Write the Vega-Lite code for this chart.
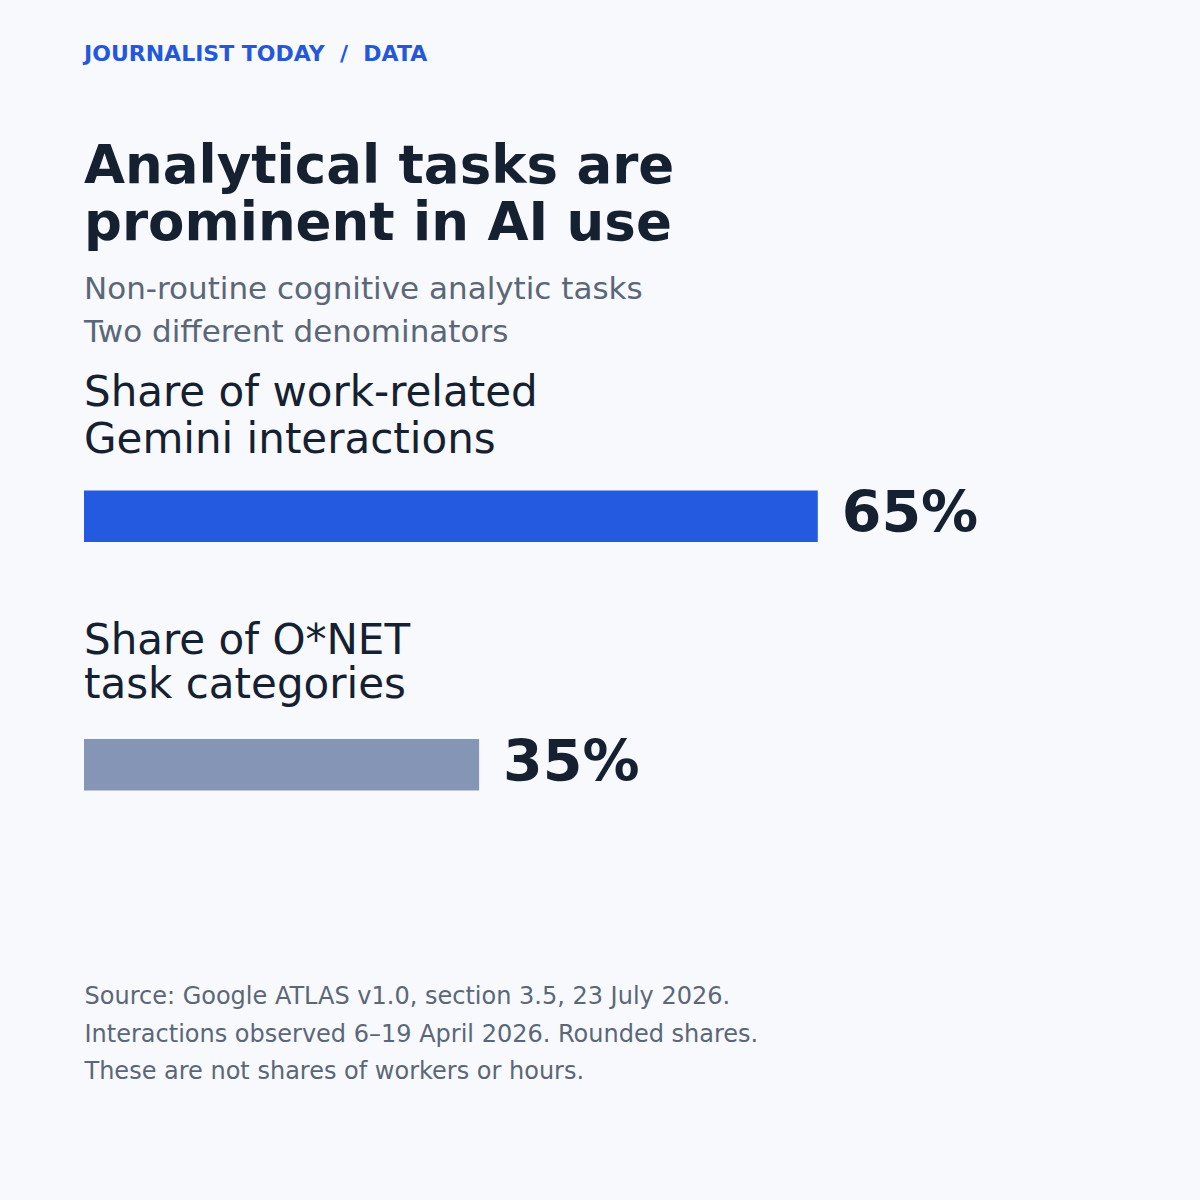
{
  "$schema": "https://vega.github.io/schema/vega-lite/v6.json",
  "background": "#f7f9fc",
  "padding": {"left": 84, "top": 42.5, "right": 100, "bottom": 117},
  "config": {"font": "DejaVu Sans", "view": {"stroke": null}},
  "title": {
    "text": "JOURNALIST TODAY\u00a0\u00a0/\u00a0\u00a0DATA",
    "anchor": "start",
    "fontSize": 22,
    "fontWeight": "bold",
    "color": "#2457dc",
    "offset": 75
  },
  "vconcat": [
    {
      "width": 1016,
      "height": 544,
      "title": {
        "text": ["Analytical tasks are", "prominent in AI use"],
        "subtitle": ["Non-routine cognitive analytic tasks", "Two different denominators"],
        "anchor": "start",
        "fontSize": 53,
        "fontWeight": "bold",
        "color": "#152030",
        "lineHeight": 57.7,
        "subtitleFontSize": 31,
        "subtitleColor": "#5b6778",
        "subtitleLineHeight": 42.5,
        "subtitlePadding": 23.5,
        "offset": 21
      },
      "data": {
        "values": [
          {"measure": "Share of work-related\nGemini interactions", "share": 0.65, "order": 1},
          {"measure": "Share of O*NET\ntask categories", "share": 0.35, "order": 2}
        ]
      },
      "encoding": {
        "y": {
          "field": "measure",
          "type": "nominal",
          "sort": null,
          "scale": {"paddingInner": 0, "paddingOuter": 0.095},
          "axis": null
        }
      },
      "layer": [
        {
          "mark": {"type": "bar", "height": 51.5},
          "encoding": {
            "x": {
              "field": "share",
              "type": "quantitative",
              "scale": {"domain": [0, 0.9], "nice": false},
              "axis": {
                "title": [
                  "Source: Google ATLAS v1.0, section 3.5, 23 July 2026.",
                  "Interactions observed 6–19 April 2026. Rounded shares.",
                  "These are not shares of workers or hours."
                ],
                "titleAnchor": "start",
                "titleAlign": "left",
                "titleFontSize": 24,
                "titleFontWeight": "normal",
                "titleColor": "#5b6778",
                "titleLineHeight": 37.5,
                "titlePadding": 72,
                "labels": false,
                "ticks": false,
                "domain": false,
                "grid": false
              }
            },
            "color": {
              "field": "measure",
              "type": "nominal",
              "sort": null,
              "scale": {"range": ["#245ae0", "#8495b6"]},
              "legend": null
            }
          }
        },
        {
          "mark": {
            "type": "text",
            "align": "left",
            "baseline": "alphabetic",
            "dx": 24,
            "dy": 16,
            "fontSize": 57,
            "fontWeight": "bold",
            "color": "#152030"
          },
          "encoding": {
            "x": {"field": "share", "type": "quantitative"},
            "text": {"field": "share", "type": "quantitative", "format": ".0%"}
          }
        },
        {
          "transform": [{"filter": "datum.order == 1"}],
          "mark": {
            "type": "text",
            "align": "left",
            "baseline": "alphabetic",
            "dy": -110.3,
            "fontSize": 42,
            "lineHeight": 46.7,
            "lineBreak": "\n",
            "color": "#152030"
          },
          "encoding": {
            "x": {"datum": 0},
            "text": {"field": "measure"}
          }
        },
        {
          "transform": [{"filter": "datum.order == 2"}],
          "mark": {
            "type": "text",
            "align": "left",
            "baseline": "alphabetic",
            "dy": -110.4,
            "fontSize": 42,
            "lineHeight": 43.3,
            "lineBreak": "\n",
            "color": "#152030"
          },
          "encoding": {
            "x": {"datum": 0},
            "text": {"field": "measure"}
          }
        }
      ]
    }
  ]
}
